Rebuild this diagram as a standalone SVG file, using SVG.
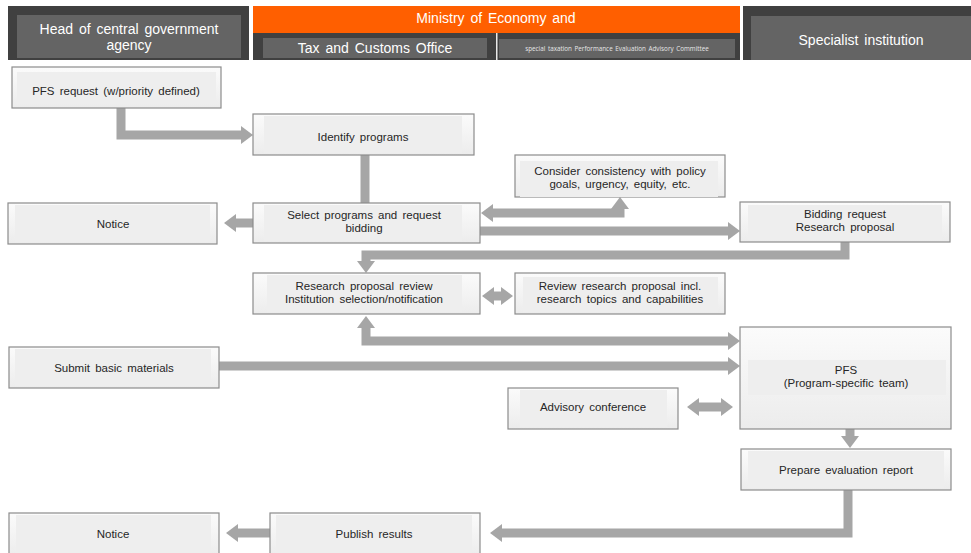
<svg xmlns="http://www.w3.org/2000/svg" width="971" height="553" viewBox="0 0 971 553">
  <style>
    .hdr { fill: #404040; }
    .hdr-in { fill: #646464; }
    .hdr-txt { font-family: "Liberation Sans", Arial, sans-serif; font-size: 14px; fill: #ffffff; text-anchor: middle; word-spacing: 2px; }
    .box { fill: url(#boxFill); stroke: #8c8c8c; stroke-width: 1.2; }
    .box-in { fill: #eeeeee; }
    .lbl { font-family: "Liberation Sans", Arial, sans-serif; font-size: 11.5px; fill: #262626; text-anchor: middle; word-spacing: 2px; }
    .arrow { fill: none; stroke: #a6a6a6; stroke-width: 9; stroke-linejoin: miter; }
  </style>
  <defs>
    <linearGradient id="boxFill" x1="0" y1="0" x2="0" y2="1">
      <stop offset="0" stop-color="#fbfbfb"/>
      <stop offset="1" stop-color="#ececec"/>
    </linearGradient>
    <marker id="head" markerUnits="userSpaceOnUse" markerWidth="12" markerHeight="18" viewBox="0 0 12 18" refX="0" refY="9" orient="auto-start-reverse">
      <path d="M0,0 L12,9 L0,18 Z" fill="#a6a6a6"/>
    </marker>
  </defs>

  <rect width="971" height="553" fill="#ffffff"/>

  <!-- header lanes -->
  <g id="lane-agency">
    <rect class="hdr" x="8" y="6" width="241" height="54"/>
    <rect class="hdr-in" x="17" y="15" width="224" height="43"/>
    <text class="hdr-txt" x="129" y="34">Head of central government</text>
    <text class="hdr-txt" x="129" y="50">agency</text>
  </g>
  <g id="lane-ministry">
    <rect x="253" y="6" width="487" height="27" fill="#ff5f00"/>
    <rect class="hdr" x="253" y="33" width="487" height="27"/>
    <rect x="496" y="33" width="1.5" height="27" fill="#e8e8e8"/>
    <rect class="hdr-in" x="263" y="38" width="224" height="20"/>
    <rect class="hdr-in" x="499" y="39" width="236" height="19"/>
    <text class="hdr-txt" x="496" y="23">Ministry of Economy and</text>
    <text class="hdr-txt" x="375" y="53">Tax and Customs Office</text>
    <text x="617" y="51" font-family="'Open Sans', 'Liberation Sans', sans-serif" font-size="6.3" fill="#e6e6e6" text-anchor="middle" word-spacing="1">special taxation Performance Evaluation Advisory Committee</text>
  </g>
  <g id="lane-institution">
    <rect class="hdr" x="743" y="6" width="228" height="54"/>
    <rect class="hdr-in" x="751" y="16" width="220" height="44"/>
    <text class="hdr-txt" x="861" y="45">Specialist institution</text>
  </g>

  <!-- connectors -->
  <g id="connectors">
    <path class="arrow" d="M121,108 V135 H241" marker-end="url(#head)"/>
    <path class="arrow" d="M365,155 V203" stroke-width="8"/>
    <path class="arrow" d="M253,223 H236" marker-end="url(#head)"/>
    <path class="arrow" d="M493,213 H620 V209" marker-start="url(#head)" marker-end="url(#head)"/>
    <path class="arrow" d="M480,231 H728" marker-end="url(#head)"/>
    <path class="arrow" d="M845,242 V255 H366 V261" marker-end="url(#head)"/>
    <path class="arrow" d="M494,296 H501" marker-start="url(#head)" marker-end="url(#head)"/>
    <path class="arrow" d="M366,328 V341 H728" marker-start="url(#head)" marker-end="url(#head)"/>
    <path class="arrow" d="M219,366 H728" marker-end="url(#head)"/>
    <path class="arrow" d="M699,407 H721" marker-start="url(#head)" marker-end="url(#head)"/>
    <path class="arrow" d="M850,429 V436" marker-end="url(#head)"/>
    <path class="arrow" d="M848,490 V533 H502" marker-end="url(#head)"/>
    <path class="arrow" d="M270,533 H238" marker-end="url(#head)"/>
  </g>

  <!-- process steps -->
  <g id="pfs-request">
    <rect class="box" x="12" y="67" width="209" height="41"/>
    <rect class="box-in" x="17" y="72" width="199" height="32"/>
    <text class="lbl" x="116" y="95">PFS request (w/priority defined)</text>
  </g>
  <g id="identify-programs">
    <rect class="box" x="253" y="114" width="221" height="41"/>
    <rect class="box-in" x="264" y="116" width="198" height="37"/>
    <text class="lbl" x="363" y="141">Identify programs</text>
  </g>
  <g id="notice-1">
    <rect class="box" x="8" y="203" width="209" height="41"/>
    <rect class="box-in" x="15" y="205" width="195" height="37"/>
    <text class="lbl" x="113" y="228">Notice</text>
  </g>
  <g id="select-programs">
    <rect class="box" x="253" y="203" width="227" height="40"/>
    <rect class="box-in" x="264" y="205" width="198" height="36"/>
    <text class="lbl" x="364" y="219">Select programs and request</text>
    <text class="lbl" x="364" y="232">bidding</text>
  </g>
  <g id="consider-consistency">
    <rect class="box" x="515" y="155" width="210" height="42"/>
    <rect class="box-in" x="520" y="161" width="198" height="36"/>
    <text class="lbl" x="620" y="175">Consider consistency with policy</text>
    <text class="lbl" x="620" y="188">goals, urgency, equity, etc.</text>
  </g>
  <g id="bidding-request">
    <rect class="box" x="740" y="202" width="210" height="40"/>
    <rect class="box-in" x="748" y="205" width="194" height="35"/>
    <text class="lbl" x="845" y="218">Bidding request</text>
    <text class="lbl" x="845" y="231">Research proposal</text>
  </g>
  <g id="proposal-review">
    <rect class="box" x="253" y="273" width="227" height="41"/>
    <rect class="box-in" x="267" y="275" width="195" height="37"/>
    <text class="lbl" x="364" y="290">Research proposal review</text>
    <text class="lbl" x="364" y="303">Institution selection/notification</text>
  </g>
  <g id="review-capabilities">
    <rect class="box" x="515" y="273" width="210" height="41"/>
    <rect class="box-in" x="523" y="277" width="195" height="35"/>
    <text class="lbl" x="620" y="290">Review research proposal incl.</text>
    <text class="lbl" x="620" y="303">research topics and capabilities</text>
  </g>
  <g id="submit-materials">
    <rect class="box" x="9" y="347" width="210" height="41"/>
    <rect class="box-in" x="15" y="349" width="196" height="37"/>
    <text class="lbl" x="114" y="372">Submit basic materials</text>
  </g>
  <g id="pfs-team">
    <rect class="box" x="740" y="327" width="211" height="102"/>
    <rect class="box-in" x="748" y="360" width="198" height="35"/>
    <text class="lbl" x="846" y="374">PFS</text>
    <text class="lbl" x="846" y="387">(Program-specific team)</text>
  </g>
  <g id="advisory-conference">
    <rect class="box" x="508" y="388" width="170" height="41"/>
    <rect class="box-in" x="520" y="390" width="147" height="37"/>
    <text class="lbl" x="593" y="411">Advisory conference</text>
  </g>
  <g id="evaluation-report">
    <rect class="box" x="741" y="449" width="210" height="41"/>
    <rect class="box-in" x="748" y="451" width="196" height="37"/>
    <text class="lbl" x="846" y="474">Prepare evaluation report</text>
  </g>
  <g id="publish-results">
    <rect class="box" x="270" y="513" width="210" height="44"/>
    <rect class="box-in" x="276" y="515" width="196" height="40"/>
    <text class="lbl" x="374" y="538">Publish results</text>
  </g>
  <g id="notice-2">
    <rect class="box" x="9" y="513" width="210" height="44"/>
    <rect class="box-in" x="16" y="515" width="195" height="40"/>
    <text class="lbl" x="113" y="538">Notice</text>
  </g>
</svg>
